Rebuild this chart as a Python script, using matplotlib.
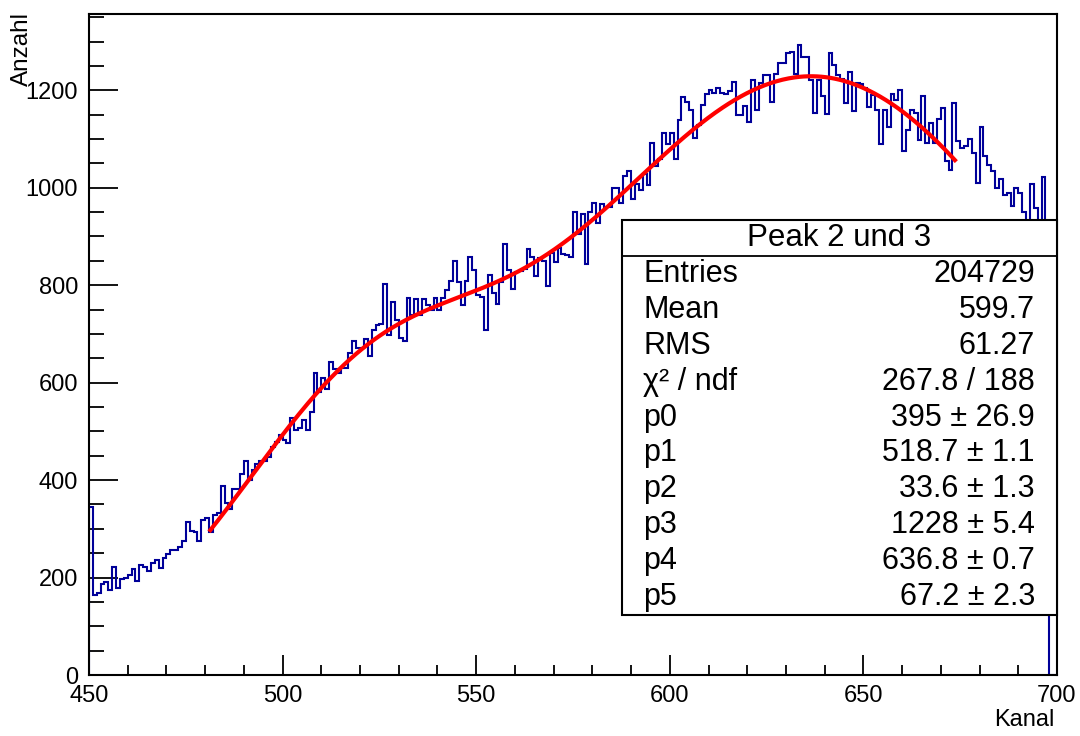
import numpy as np
import matplotlib
matplotlib.use("Agg")
import matplotlib.pyplot as plt
from matplotlib.patches import Rectangle
from matplotlib.lines import Line2D
from matplotlib.ticker import MultipleLocator

plt.rcParams['font.family'] = ['Liberation Sans', 'DejaVu Sans']

# ---- data ----
bin_start = 450
bin_width = 1
counts = [
    345, 164, 168, 186, 191, 174, 221, 178, 196, 200,   # 450-459
    205, 217, 193, 226, 222, 214, 230, 236, 219, 241,   # 460-469
    248, 256, 256, 263, 276, 313, 296, 294, 276, 319,   # 470-479
    322, 294, 328, 332, 388, 352, 340, 381, 381, 412,   # 480-489
    440, 400, 420, 433, 440, 440, 448, 468, 479, 492,   # 490-499
    482, 477, 527, 503, 506, 523, 503, 540, 620, 581,   # 500-509
    609, 586, 643, 629, 620, 631, 631, 661, 686, 672,   # 510-519
    672, 689, 654, 709, 718, 720, 802, 697, 766, 728,   # 520-529
    691, 686, 773, 738, 771, 738, 771, 759, 749, 773,   # 530-539
    749, 773, 790, 809, 850, 807, 759, 809, 858, 831,   # 540-549
    779, 776, 709, 820, 783, 761, 807, 884, 831, 793,   # 550-559
    827, 829, 834, 875, 858, 818, 855, 850, 798, 866,   # 560-569
    848, 877, 865, 862, 858, 950, 905, 946, 843, 950,   # 570-579
    968, 927, 966, 961, 961, 1000, 1000, 969, 1024, 1034,  # 580-589
    976, 1007, 996, 1029, 1005, 1092, 1044, 1060, 1112, 1089,  # 590-599
    1112, 1060, 1140, 1186, 1176, 1160, 1103, 1128, 1169, 1192,  # 600-609
    1200, 1195, 1205, 1195, 1193, 1199, 1217, 1149, 1149, 1167,  # 610-619
    1135, 1222, 1160, 1215, 1231, 1231, 1176, 1233, 1256, 1256,  # 620-629
    1277, 1279, 1234, 1292, 1268, 1268, 1221, 1153, 1221, 1188,  # 630-639
    1152, 1277, 1251, 1231, 1224, 1173, 1238, 1158, 1215, 1213,  # 640-649
    1204, 1165, 1190, 1160, 1089, 1160, 1125, 1192, 1180, 1201,  # 650-659
    1076, 1118, 1160, 1153, 1099, 1188, 1091, 1132, 1092, 1142,  # 660-669
    1164, 1055, 1036, 1174, 1096, 1082, 1085, 1101, 1071, 1010,  # 670-679
    1124, 1065, 1046, 1034, 1000, 1017, 985, 990, 962, 1000,   # 680-689
    989, 950, 915, 1008, 958, 910, 1023, 905, 0, 0,            # 690-699
]

# fit parameters (double gaussian) as shown in the stats box
fit_params = [395, 518.7, 33.6, 1228, 636.8, 67.2]
fit_range = [481, 674]

stats_title = "Peak 2 und 3"
stats_labels = ["Entries", "Mean", "RMS", "\u03c7\u00b2 / ndf", "p0", "p1", "p2", "p3", "p4", "p5"]
stats_values = ["204729", "599.7", "61.27", "267.8 / 188",
                "395 \u00b1 26.9", "518.7 \u00b1 1.1", "33.6 \u00b1 1.3",
                "1228 \u00b1 5.4", "636.8 \u00b1 0.7", "67.2 \u00b1 2.3"]

x_label = "Kanal"
y_label = "Anzahl"

# ---- figure ----
W, H = 1080, 736
fig = plt.figure(figsize=(W / 100, H / 100), dpi=100)
ax = fig.add_axes([89 / W, 1 - 675 / H, (1057 - 89) / W, (675 - 14) / H])

edges = bin_start + bin_width * np.arange(len(counts) + 1)
ax.stairs(counts, edges, baseline=0, color='#000099', lw=1.5, zorder=2)

def dgaus(x, p):
    return (p[0] * np.exp(-0.5 * ((x - p[1]) / p[2]) ** 2)
            + p[3] * np.exp(-0.5 * ((x - p[4]) / p[5]) ** 2))

xf = np.linspace(fit_range[0], fit_range[1], 500)
ax.plot(xf, dgaus(xf, fit_params), color='#ff0000', lw=3.0, zorder=3,
        solid_capstyle='butt')

ax.set_xlim(450, 700)
ax.set_ylim(0, 1.05 * max(counts))

ax.xaxis.set_major_locator(MultipleLocator(50))
ax.xaxis.set_minor_locator(MultipleLocator(10))
ax.yaxis.set_major_locator(MultipleLocator(200))
ax.yaxis.set_minor_locator(MultipleLocator(50))

ax.tick_params(axis='both', which='both', direction='in', top=False, right=False,
               labelsize=17, width=1.3, color='black')
ax.tick_params(axis='y', which='major', length=21, pad=8)
ax.tick_params(axis='y', which='minor', length=10.5)
ax.tick_params(axis='x', which='major', length=14.5, pad=7)
ax.tick_params(axis='x', which='minor', length=7.2)
for s in ax.spines.values():
    s.set_linewidth(1.5)

fig.text(1055 / W, 1 - 720 / H, x_label, ha='right', va='center', fontsize=17)
fig.text(22 / W, 1 - 12 / H, y_label, ha='center', va='top', rotation=90, fontsize=17.5)

# ---- stats box ----
bx0, bx1 = 622 / W, 1057 / W
by_top, by_bot = 1 - 220 / H, 1 - 615 / H
sep = 1 - 256 / H
fig.patches.append(Rectangle((bx0, by_bot), bx1 - bx0, by_top - by_bot,
                             transform=fig.transFigure, facecolor='white',
                             edgecolor='black', lw=1.5, zorder=10))
fig.lines.append(Line2D([bx0, bx1], [sep, sep], transform=fig.transFigure,
                        color='black', lw=1.3, zorder=11))
fig.text((bx0 + bx1) / 2, (by_top + sep) / 2, stats_title, ha='center', va='center',
         fontsize=22.5, zorder=12)
n = len(stats_labels)
row_h = (sep - by_bot) / n
for i, (lab, val) in enumerate(zip(stats_labels, stats_values)):
    yc = sep - row_h * (i + 0.5)
    fig.text(643 / W, yc, lab, ha='left', va='center', fontsize=22, zorder=12)
    fig.text(1035 / W, yc, val, ha='right', va='center', fontsize=22, zorder=12)

fig.savefig("out.png", dpi=100)
